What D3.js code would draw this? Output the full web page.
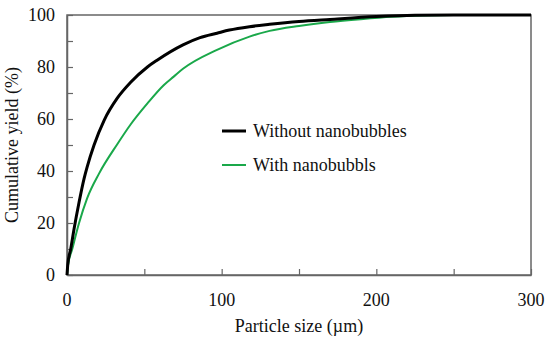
<!DOCTYPE html>
<html lang="en">

<head>
    <meta charset="UTF-8" />
    <title>Cumulative yield</title>
    <script src="https://d3js.org/d3.v7.js"></script>
    <style>
        body { margin: 0; background: #fff; }
        text { font-family: "Liberation Serif", "Times New Roman", serif; fill: #111; }
    </style>
</head>

<body>
    <svg id="chart"></svg>
</body>

<script>
    // particle size (um) and cumulative yield (%)
    var sizeWithout = [0, 0.5, 2.4, 4.5, 7.8, 11, 13, 17.5, 24, 32.5, 41, 52, 58, 75, 86, 97, 105, 118, 131, 150, 170, 200, 225, 250, 300];
    var yieldWithout = [0, 4, 10, 17.5, 28, 37, 41.5, 50, 59.5, 68, 74, 80, 82.5, 88.5, 91.3, 93, 94.2, 95.5, 96.4, 97.5, 98.3, 99.4, 99.9, 100, 100];

    var sizeWith = [0, 0.6, 3.4, 7.8, 13, 20.7, 32.5, 41, 52, 62.5, 69, 75, 97, 118, 131, 150, 170, 190, 210, 230, 250, 300];
    var yieldWith = [0, 3.5, 10, 20, 29.5, 39, 50.3, 57.8, 66, 73, 76.3, 79.3, 86.6, 91.7, 93.9, 95.8, 97.3, 98.4, 99.3, 99.8, 100, 100];

    var xTickLabels = [0, 100, 200, 300];
    var yTickLabels = [0, 20, 40, 60, 80, 100];
    var seriesNames = ["Without nanobubbles", "With nanobubbls"];
    var seriesColors = ["#000000", "#1aa84a"];
    var seriesWidths = [3, 2];

    var width = 550, height = 343;
    var margin = { top: 15, right: 19, bottom: 68, left: 67 };
    var w = width - margin.left - margin.right;
    var h = height - margin.top - margin.bottom;
    var fontSize = "18px";

    var svg = d3.select("#chart")
        .attr("width", width)
        .attr("height", height);

    var g = svg.append("g")
        .attr("transform", `translate(${margin.left},${margin.top})`);

    var x = d3.scaleLinear().domain([0, 300]).range([0, w]);
    var y = d3.scaleLinear().domain([0, 100]).range([h, 0]);

    var axisColor = "#666";

    // frame
    g.append("rect")
        .attr("width", w)
        .attr("height", h)
        .attr("fill", "none")
        .attr("stroke", axisColor)
        .attr("stroke-width", 1.5);

    // x axis, inward ticks every 50, labels every 100
    var xAxis = g.append("g")
        .attr("transform", `translate(0,${h})`)
        .call(d3.axisBottom(x).tickValues(d3.range(0, 301, 50)).tickSizeInner(-6).tickSizeOuter(0).tickFormat(""));
    xAxis.select(".domain").attr("stroke", axisColor).attr("stroke-width", 1.5);
    xAxis.selectAll(".tick line").attr("stroke", axisColor).attr("stroke-width", 1.2);

    g.selectAll(".xlab")
        .data(xTickLabels)
        .enter().append("text")
        .attr("x", d => x(d))
        .attr("y", h + 31)
        .attr("text-anchor", "middle")
        .style("font-size", fontSize)
        .text(d => d);

    // y axis, inward ticks every 10, labels every 20
    var yAxis = g.append("g")
        .call(d3.axisLeft(y).tickValues(d3.range(0, 101, 10)).tickSizeInner(-6).tickSizeOuter(0).tickFormat(""));
    yAxis.select(".domain").attr("stroke", axisColor).attr("stroke-width", 1.5);
    yAxis.selectAll(".tick line").attr("stroke", axisColor).attr("stroke-width", 1.2);

    g.selectAll(".ylab")
        .data(yTickLabels)
        .enter().append("text")
        .attr("x", -12)
        .attr("y", d => y(d))
        .attr("dy", "0.35em")
        .attr("text-anchor", "end")
        .style("font-size", fontSize)
        .text(d => d);

    // axis titles
    g.append("text")
        .attr("x", w / 2)
        .attr("y", h + 57)
        .attr("text-anchor", "middle")
        .style("font-size", fontSize)
        .text("Particle size (\u00b5m)");

    g.append("text")
        .attr("transform", `translate(${-49},${h / 2}) rotate(-90)`)
        .attr("text-anchor", "middle")
        .style("font-size", fontSize)
        .text("Cumulative yield (%)");

    // curves
    var series = [
        d3.zip(sizeWithout, yieldWithout),
        d3.zip(sizeWith, yieldWith)
    ];

    var line = d3.line()
        .x(d => x(d[0]))
        .y(d => y(d[1]))
        .curve(d3.curveMonotoneX);

    // draw green first so black sits on top
    [1, 0].forEach(i => {
        g.append("path")
            .datum(series[i])
            .attr("fill", "none")
            .attr("stroke", seriesColors[i])
            .attr("stroke-width", seriesWidths[i])
            .attr("stroke-linejoin", "round")
            .attr("d", line);
    });

    // legend
    var legend = g.append("g")
        .attr("transform", `translate(${222 - margin.left},${131 - margin.top})`);

    seriesNames.forEach((name, i) => {
        var row = legend.append("g").attr("transform", `translate(0,${i * 34})`);
        row.append("line")
            .attr("x1", 0).attr("x2", 24)
            .attr("stroke", seriesColors[i])
            .attr("stroke-width", seriesWidths[i]);
        row.append("text")
            .attr("x", 31)
            .attr("dy", "0.35em")
            .style("font-size", fontSize)
            .text(name);
    });
</script>

</html>
